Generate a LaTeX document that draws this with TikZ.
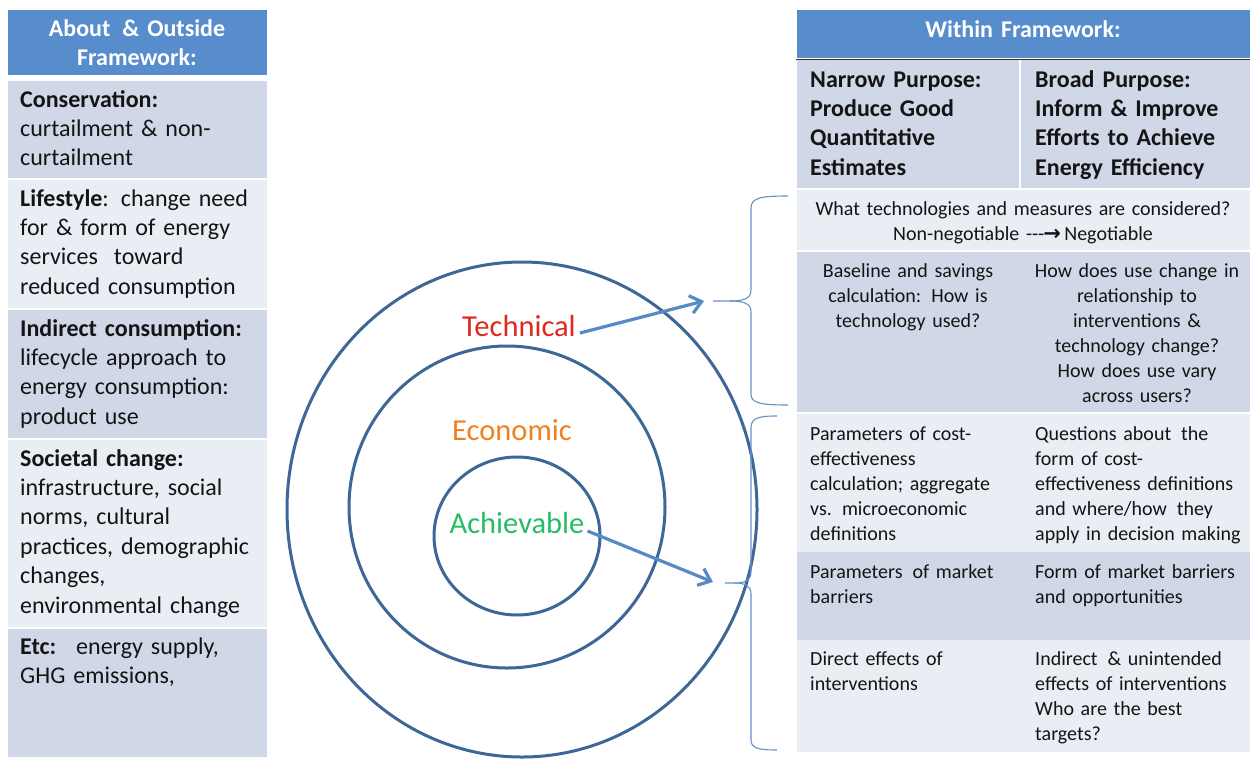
\documentclass[tikz,border=0pt]{standalone}
\usepackage{fontspec}
\setmainfont{Carlito}
\newfontfamily\symfont{DejaVu Sans}
\usetikzlibrary{arrows.meta}
\definecolor{hdr}{RGB}{88,141,205}
\definecolor{rowdark}{RGB}{208,216,232}
\definecolor{rowlight}{RGB}{233,237,244}
\definecolor{ringc}{RGB}{61,103,150}
\definecolor{arrc}{RGB}{86,138,198}
\definecolor{bracec}{RGB}{100,145,200}
\definecolor{techred}{RGB}{222,42,30}
\definecolor{econ}{RGB}{238,128,32}
\definecolor{achv}{RGB}{38,190,100}
\definecolor{txt}{RGB}{20,20,20}
\begin{document}
\begin{tikzpicture}[x=1pt,y=-1pt,
  lt/.style={font=\fontsize{24}{29.4}\selectfont, inner sep=0pt, anchor=base west, text width=250pt, align=left, text=txt},
  sm/.style={font=\fontsize{20}{25}\selectfont, inner sep=0pt, anchor=base west, text width=225pt, align=left, text=txt},
  smc/.style={font=\fontsize{20}{25}\selectfont, inner sep=0pt, anchor=base, text width=230pt, align=center, text=txt},
  hd/.style={font=\fontsize{24}{29.4}\selectfont\bfseries, inner sep=0pt, anchor=base, text width=260pt, align=center, text=white},
  lbl/.style={font=\fontsize{30.5}{36}\selectfont, inner sep=0pt, anchor=base},
  ring/.style={draw=ringc, line width=3pt},
  arrowline/.style={draw=arrc, line width=3.2pt, -{Straight Barb[length=11pt,width=18pt]}},
  bracestyle/.style={draw=bracec, line width=1.1pt}
]
\useasboundingbox (0,0) rectangle (1250,758);
\fill[white] (0,0) rectangle (1250,758);

% ---------- left column ----------
\fill[hdr] (8,10) rectangle (267,75);
\fill[rowdark] (8,81) rectangle (267,178);
\fill[rowlight] (8,180) rectangle (267,308);
\fill[rowdark] (8,310) rectangle (267,438);
\fill[rowlight] (8,440) rectangle (267,627);
\fill[rowdark] (8,629) rectangle (267,757);

\node[hd] (lh) at (137,36) {About \,\& Outside\\Framework:};
\node[lt] (c1) at (20,107) {\textbf{Conservation:}\\curtailment \& non-\\curtailment};
\node[lt] (c2) at (20,206) {\textbf{Lifestyle}: change need\\for \& form of energy\\services \ toward\\reduced consumption};
\node[lt] (c3) at (20,336) {\textbf{Indirect consumption:}\\lifecycle approach to\\energy consumption:\\product use};
\node[lt] (c4) at (20,466) {\textbf{Societal change:}\\infrastructure, social\\norms, cultural\\practices, demographic\\changes,\\environmental change};
\node[lt] (c5) at (20,654) {\textbf{Etc:} \ energy supply,\\GHG emissions,};

% ---------- right table ----------
\fill[hdr] (797,10) rectangle (1250,58);
\draw[black!80, line width=1pt] (796,59) -- (1250,59);
\fill[rowdark] (797,60) rectangle (1250,188);
\draw[white!95!rowdark, line width=2pt] (1020,60) -- (1020,188);
\fill[rowlight] (797,190) rectangle (1250,250);
\fill[rowdark] (797,252) rectangle (1250,412);
\fill[rowlight] (797,414) rectangle (1250,552);
\fill[rowdark] (797,552) rectangle (1250,640);
\fill[rowlight] (797,640) rectangle (1250,752);

\node[hd] (rh) at (1023,37) {Within Framework:};
\node[lt] (n1) at (810,87) {\textbf{Narrow Purpose:}\\\textbf{Produce Good}\\\textbf{Quantitative}\\\textbf{Estimates}};
\node[lt] (n2) at (1035,87) {\textbf{Broad Purpose:}\\\textbf{Inform \& Improve}\\\textbf{Efforts to Achieve}\\\textbf{Energy Efficiency}};
\node[smc, text width=440pt] (w1) at (1023,215) {What technologies and measures are considered?\\Non-negotiable -\kern0pt-\kern0pt-{\symfont\bfseries\fontsize{21}{25}\selectfont\kern-1pt→}\,Negotiable};
\node[smc] (b1) at (908,277) {Baseline and savings\\calculation: How is\\technology used?};
\node[smc] (b2) at (1137,277) {How does use change in\\relationship to\\interventions \&\\technology change?\\How does use vary\\across users?};
\node[sm] (e1) at (810,440) {Parameters of cost-\\effectiveness\\calculation; aggregate\\vs. microeconomic\\definitions};
\node[sm] (e2) at (1035,440) {Questions about \,the\\form of cost-\\effectiveness definitions\\and where/how \,they\\apply in decision making};
\node[sm] (m1) at (810,578) {Parameters \,of market\\barriers};
\node[sm] (m2) at (1035,578) {Form of market barriers\\and opportunities};
\node[sm] (d1) at (810,665) {Direct effects of\\interventions};
\node[sm] (d2) at (1035,665) {Indirect \,\& unintended\\effects of interventions\\Who are the best\\targets?};

% ---------- rings ----------
\draw[ring] (522,509.5) ellipse [x radius=235pt, y radius=247.5pt];
\draw[ring] (507,507) ellipse [x radius=158pt, y radius=161pt];
\draw[ring] (517,536) ellipse [x radius=83pt, y radius=79pt];

\node[lbl, text=techred] (tech) at (519,336) {Technical};
\node[lbl, text=econ] (econ) at (512,440) {Economic};
\node[lbl, text=achv] (ach) at (517,533) {Achievable};

% ---------- braces ----------
\draw[bracestyle] (788,196) .. controls (760,196) and (751,198) .. (751,208) -- (751,290)
  .. controls (751,298) and (745,301) .. (730,301) -- (713,301);
\draw[bracestyle] (730,301) .. controls (745,301) and (751,304) .. (751,312) -- (751,394)
  .. controls (751,403) and (760,405) .. (788,405);
\draw[bracestyle] (777,416) .. controls (758,416) and (751,418) .. (751,428) -- (751,572)
  .. controls (751,580) and (745,583) .. (735,583) -- (725,583);
\draw[bracestyle] (735,583) .. controls (745,583) and (751,586) .. (751,594) -- (751,740)
  .. controls (751,748) and (758,750) .. (777,750);

\coordinate (bt1) at (704,301);
\coordinate (bt2) at (713,582);

% ---------- arrows ----------
\draw[arrowline] ([shift={(4,-3)}]tech.base east) -- (bt1);
\draw[arrowline] ([shift={(3,-2)}]ach.base east) -- (bt2);
\end{tikzpicture}
\end{document}
